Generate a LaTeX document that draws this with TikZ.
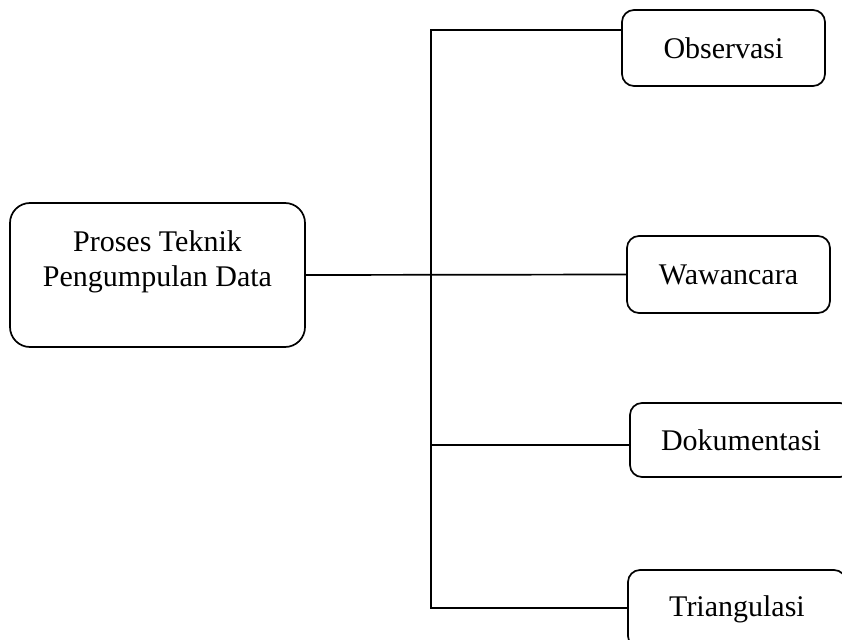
\documentclass[tikz,border=0pt]{standalone}
\usepackage{fontspec}
\setmainfont{Liberation Serif}
\tikzstyle{box} = [rectangle, rounded corners=12pt, text centered, draw=black, line width=1.7pt]
\tikzstyle{line} = [line width=1.7pt, -]

\begin{document}
\begin{tikzpicture}[x=1pt, y=-1pt, font=\fontsize{30}{35}\selectfont]
          \useasboundingbox (0,0) rectangle (842,639);
          \clip (0,0) rectangle (842,639);
          \node (proses) [box, rounded corners=20pt, minimum width=295pt, minimum height=144pt] at (157.5,275) {};
          \node (prosestext) [align=center] at (157.5,262) {Proses Teknik\\Pengumpulan Data};
          \node (obs) [box, minimum width=203pt, minimum height=76pt] at (723.5,48) {Observasi};
          \node (waw) [box, minimum width=203pt, minimum height=77pt] at (728.5,274.5) {Wawancara};
          \node (dok) [box, minimum width=222pt, minimum height=74pt] at (741,440) {Dokumentasi};
          \node (tri) [box, minimum width=218pt, minimum height=78pt] at (737,609) {Triangulasi};
          \coordinate (top) at (431,30);
          \coordinate (mid) at (431,445);
          \coordinate (bot) at (431,608);
          \draw [line] (proses.east) -- (waw.west);
          \draw [line] (obs.west |- top) -- (top) -- (bot) -- (tri.west |- bot);
          \draw [line] (mid) -- (dok.west |- mid);
        \end{tikzpicture}
\end{document}
